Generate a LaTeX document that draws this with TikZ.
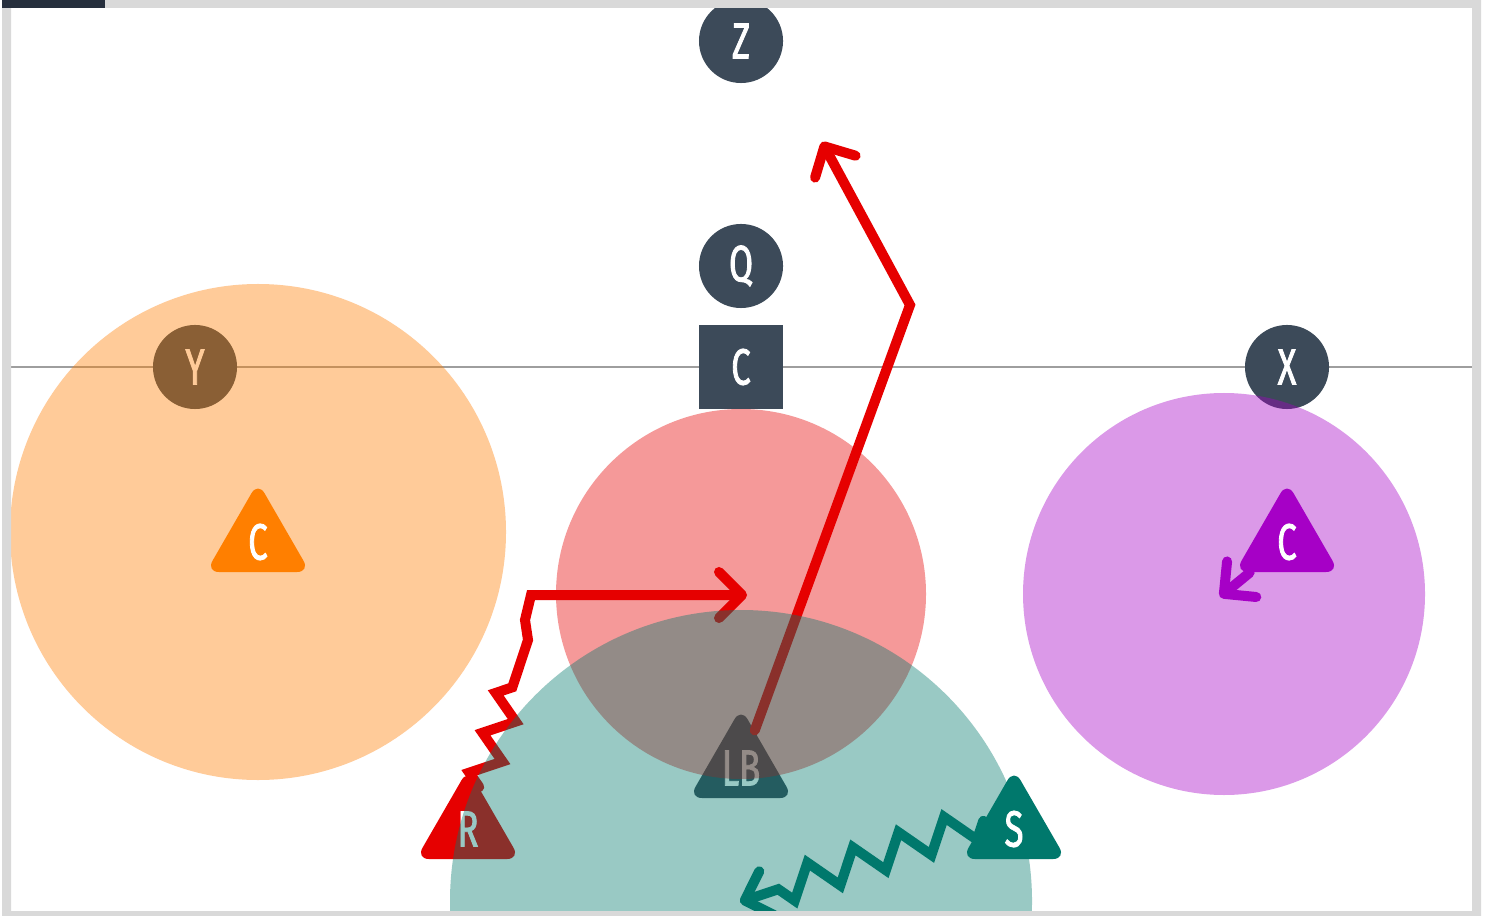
\documentclass[tikz,border=0pt]{standalone}
\usepackage{fontspec}
\newfontfamily\lblfont[FakeStretch=0.68,FakeBold=1.6]{Fira Sans}
\newcommand\lbl{\lblfont\fontsize{14.5pt}{16pt}\selectfont}
\usetikzlibrary{arrows.meta,shapes.geometric,decorations.pathmorphing}
\definecolor{cDark}{HTML}{3C4A59}
\definecolor{cRed}{HTML}{E60000}
\definecolor{cOrange}{HTML}{FF7F00}
\definecolor{cPurple}{HTML}{A600C6}
\definecolor{cTeal}{HTML}{00786C}
\definecolor{cFrame}{HTML}{D9D9D9}
\definecolor{cBar}{HTML}{262F3D}
\definecolor{cLine}{HTML}{9E9E9E}

\begin{document}
\begin{tikzpicture}[
x=0.01cm, y=-0.01cm,
    P/.style = {circle, fill=cDark, text=white, font=\lbl,% round players
                minimum size=0.84cm, inner sep=0pt},
    B/.style = {rectangle, fill=cDark, text=white, font=\lbl,% the centre box
                minimum size=0.84cm, inner sep=0pt},
    T/.style = {regular polygon, regular polygon sides=3, fill=#1,% triangles
                text=white, font=\lbl, minimum size=1.2cm,
                inner sep=0pt, rounded corners=1.3mm},
    Z/.style = {fill=#1, fill opacity=0.4},% zones
    L/.style = {draw=#1, line width=1mm, line cap=round,% routes
                -{Straight Barb[length=2.3mm,width=4.6mm,round]}},
   zz/.style = {decoration={zigzag, segment length=0.42cm,
                amplitude=0.14cm, post length=0.3cm}},
                        ]
\useasboundingbox (0,0) rectangle (1489,916);
\fill[white] (0,0) rectangle (1489,916);
\draw[cLine, line width=0.2mm] (11,367) -- (1472,367);
\foreach \n/\px/\py/\t in {z/741/41/Z, q/741/266/Q, y/195/367/Y, x/1287/367/X}
    \node[P] (\n) at (\px,\py) {\t};
\node[B] (c) at (741,367) {C};
\node[T=cDark] (lb) at (741,768) {LB};
\node[T=cRed]  (r)  at (468,829) {R};
% routes under the zones
\coordinate (lbBreak) at (910,305);
\coordinate (lbEnd)   at (822,142);
\coordinate (rZig)    at (528,640);
\coordinate (rKink)   at (525,620);
\coordinate (rTurn)   at (531,595);
\coordinate (rEnd)    at (747,595);
\draw[L=cRed] (lb) -- (lbBreak) -- (lbEnd);
\draw[L=cRed] (r.75) decorate[zz] {-- (rZig)} -- (rKink) -- (rTurn) -- (rEnd);
% zones
\fill[Z=cOrange] (258,532) circle (248);
\fill[Z=cRed]    (741,594) circle (185);
\fill[Z=cTeal]   (741,901) circle (291);
\fill[Z=cPurple] (1224,594) circle (201);
% players on top
\node[T=cOrange] (cl) at (258,542) {C};
\node[T=cPurple] (cr) at (1287,542) {C};
\node[T=cTeal]   (s)  at (1014,829) {S};
\coordinate (crEnd) at (1220,597);
\coordinate (sEnd)  at (740,902);
\draw[L=cPurple] (cr) -- (crEnd);
\draw[L=cTeal, zz, decoration={amplitude=0.16cm, segment length=0.48cm}, decorate] (s.165) -- (sEnd);
% frame
\fill[cFrame, even odd rule] (2,0) rectangle (1481,916) (11,8) rectangle (1472,911);
\fill[cBar] (2,0) rectangle (105,8);
\end{tikzpicture}
\end{document}
